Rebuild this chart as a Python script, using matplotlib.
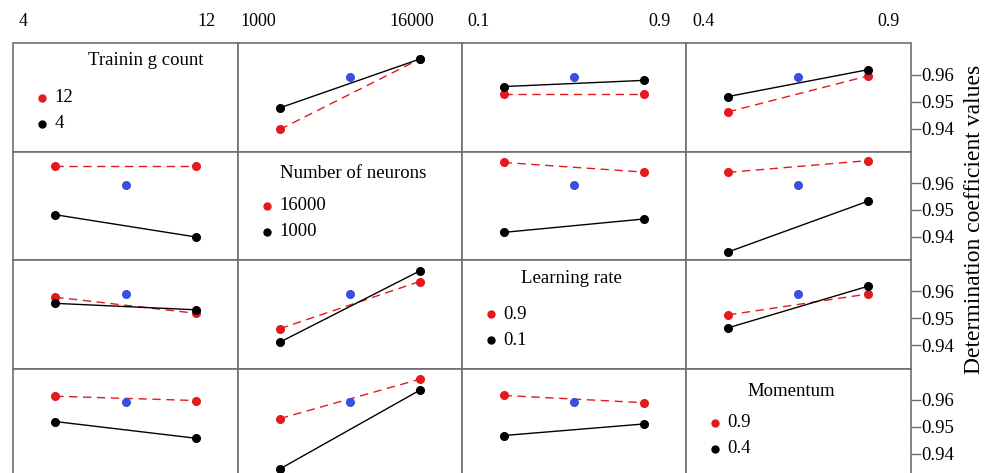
import numpy as np
import matplotlib
matplotlib.use("Agg")
from matplotlib import pyplot as plt

plt.rcParams['font.family'] = ['Liberation Serif', 'DejaVu Serif']

# factors and their low / high levels
factors = ["Trainin g count", "Number of neurons", "Learning rate", "Momentum"]
levels = [[4, 12], [1000, 16000], [0.1, 0.9], [0.4, 0.9]]
level_labels = [["4", "12"], ["1000", "16000"], ["0.1", "0.9"], ["0.4", "0.9"]]

# mean response, row = trace factor, col = x factor; (at x low, at x high)
black_means = [
    [None, (0.9477, 0.9658), (0.9556, 0.9579), (0.9519, 0.9619)],
    [(0.9482, 0.9399), None, (0.9416, 0.9466), (0.9343, 0.9533)],
    [(0.9555, 0.9531), (0.9411, 0.9675), None, (0.9464, 0.9619)],
    [(0.9519, 0.9457), (0.9343, 0.9635), (0.9467, 0.9510), None],
]
red_means = [
    [None, (0.9397, 0.9658), (0.9529, 0.9529), (0.9462, 0.9596)],
    [(0.9662, 0.9662), None, (0.9677, 0.9641), (0.9640, 0.9684)],
    [(0.9578, 0.9518), (0.9461, 0.9636), None, (0.9512, 0.9590)],
    [(0.9613, 0.9597), (0.9530, 0.9676), (0.9616, 0.9589), None],
]
center_point = 0.9591
yticks = [0.94, 0.95, 0.96]

RED = '#e3191e'
BLUE = '#3a4fe0'
FRAME = '#6e6e6e'

W, H = 986, 473
fig = plt.figure(figsize=(W / 100, H / 100), dpi=100)

col_edges = [13, 238, 461.5, 686, 910.5]
row_edges = [43.5, 152, 260, 368.5, 477]
# layout of the top tick labels and of the legend titles (axes fractions)
top_label_pos = [[0.044, 0.858], [0.089, 0.779], [0.078, 0.884], [0.076, 0.904]]
title_x = [0.59, 0.515, 0.49, 0.47]
title_y = [0.84, 0.80, 0.83, 0.79]

for i in range(4):
    for j in range(4):
        x0, x1 = col_edges[j], col_edges[j + 1]
        y0, y1 = row_edges[i], row_edges[i + 1]
        ax = fig.add_axes([x0 / W, 1 - y1 / H, (x1 - x0) / W, (y1 - y0) / H])
        lo, hi = levels[j]
        span = hi - lo
        ax.set_xlim(lo - 0.3 * span, hi + 0.3 * span)
        ax.set_ylim(0.9313, 0.9716)
        for s in ax.spines.values():
            s.set_color(FRAME)
            s.set_linewidth(1.2)
        ax.set_xticks([])
        if j == 3:
            ax.yaxis.tick_right()
            ax.set_yticks(yticks)
            ax.set_yticklabels(["%.2f" % t for t in yticks])
            ax.tick_params(axis='y', direction='out', length=7, width=1,
                           color=FRAME, labelsize=13.5, pad=1)
        else:
            ax.set_yticks([])

        if i == 0:
            for k in range(2):
                ax.text(top_label_pos[j][k], 1.0 + 22 / (y1 - y0),
                        level_labels[j][k], transform=ax.transAxes,
                        ha='center', va='center', fontsize=13)

        if i == j:
            ax.text(title_x[i], title_y[i], factors[i], transform=ax.transAxes,
                    ha='center', va='center', fontsize=13.5)
            ax.plot([0.13], [0.50], 'o', color=RED, ms=5, transform=ax.transAxes)
            ax.plot([0.13], [0.26], 'o', color='black', ms=5, transform=ax.transAxes)
            ax.text(0.185, 0.50, level_labels[i][1], transform=ax.transAxes,
                    ha='left', va='center', fontsize=13.5)
            ax.text(0.185, 0.26, level_labels[i][0], transform=ax.transAxes,
                    ha='left', va='center', fontsize=13.5)
            continue

        ax.plot(levels[j], red_means[i][j], '--', color=RED, lw=1,
                dashes=(6, 4), marker='o', ms=5.5, mec=RED, mfc=RED)
        ax.plot(levels[j], black_means[i][j], '-', color='black', lw=1,
                marker='o', ms=5.5)
        ax.plot([(lo + hi) / 2], [center_point], 'o', color=BLUE, ms=5.5)

fig.text(974 / W, 1 - 219 / H, "Determination coefficient values",
         rotation=90, ha='center', va='center', fontsize=17)

fig.savefig("out.png", dpi=100)
